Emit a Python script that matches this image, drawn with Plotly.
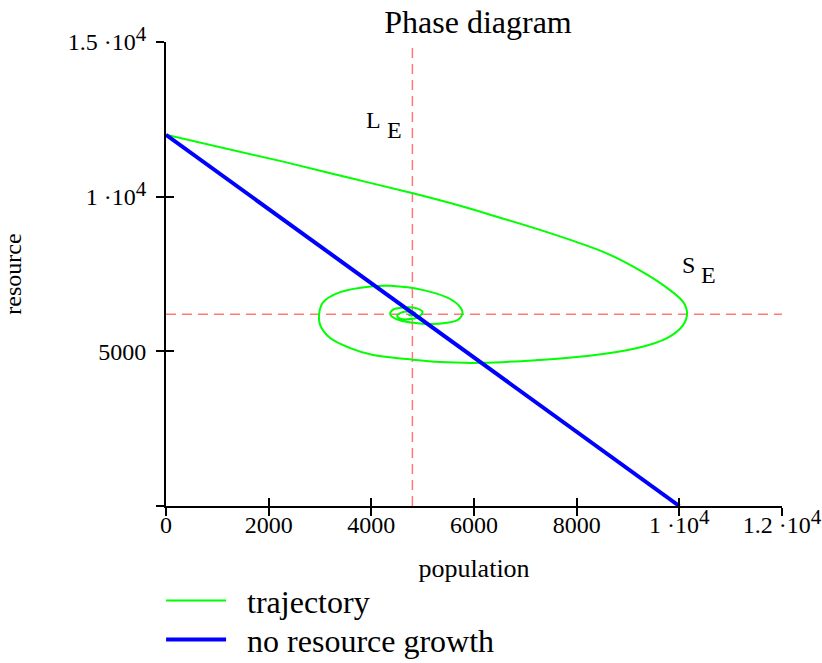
import plotly.graph_objects as go

# ---- data ----
traj_pop = [0, 2284, 3588, 4790, 5538, 6314, 7541, 8397, 8845, 9372, 9761, 10073, 10151,
            10073, 9761, 9177, 8203, 7230, 6178, 5341, 4698, 4036, 3588, 3199, 3004,
            2985, 3063, 3394, 4036, 4367, 5015, 5471, 5697, 5775, 5697, 5471, 5146,
            4821, 4498, 4367, 4431, 4659, 4887, 4996, 4932, 4757, 4562, 4503, 4581,
            4737, 4854, 4796, 4718]
traj_res = [12000, 11132, 10602, 10119, 9793, 9418, 8788, 8294, 7967, 7480, 7051, 6598, 6236,
            5848, 5428, 5105, 4846, 4717, 4630, 4653, 4750, 4879, 5105, 5428, 5848,
            6236, 6591, 6914, 7108, 7118, 6979, 6743, 6494, 6258, 6032, 5922, 5880,
            5922, 6032, 6204, 6355, 6420, 6388, 6278, 6123, 6042, 6058, 6155, 6252,
            6284, 6236, 6155, 6187]

nogrowth_pop = [0, 10000]
nogrowth_res = [12000, 0]

L_E = 4800
S_E = 6200

x_range = [0, 12000]
y_range = [0, 15000]
SUP4 = "<span style='font-size:21px;baseline-shift:45%'>4</span>"
x_ticks = [0, 2000, 4000, 6000, 8000, 10000, 12000]
x_ticktext = ["0", "2000", "4000", "6000", "8000", "1 ·10" + SUP4, "1.2 ·10" + SUP4]
y_ticks = [0, 5000, 10000, 15000]
y_ticktext = ["", "5000", "1 ·10" + SUP4, "1.5 ·10" + SUP4]

FONT = "Liberation Serif, Times New Roman, serif"
DASH_COLOR = "rgb(255,120,120)"
NB = "\u00a0\u00a0"

fig = go.Figure()

fig.add_trace(go.Scatter(x=[L_E, L_E], y=y_range, mode="lines",
                         line=dict(color=DASH_COLOR, width=1.5, dash="10px,6px"),
                         showlegend=False, hoverinfo="skip"))
fig.add_trace(go.Scatter(x=x_range, y=[S_E, S_E], mode="lines",
                         line=dict(color=DASH_COLOR, width=1.5, dash="10px,6px"),
                         showlegend=False, hoverinfo="skip"))
fig.add_trace(go.Scatter(x=traj_pop, y=traj_res, mode="lines", name=NB + "trajectory",
                         legend="legend",
                         line=dict(color="#00ff00", width=2, shape="spline", smoothing=1.0)))
fig.add_trace(go.Scatter(x=nogrowth_pop, y=nogrowth_res, mode="lines",
                         name=NB + "no resource growth", legend="legend2",
                         line=dict(color="#0000ff", width=4)))
# carrier trace so the overlay axes (inner half of the tick marks) get drawn
fig.add_trace(go.Scatter(x=[None], y=[None], xaxis="x2", yaxis="y2", mode="lines",
                         showlegend=False, hoverinfo="skip"))

axis_common = dict(showgrid=False, zeroline=False, showline=True, linecolor="black",
                   linewidth=2, tickcolor="black", tickwidth=2, ticklen=8)
inner_common = dict(ticks="inside", showticklabels=False, showgrid=False, zeroline=False,
                    showline=False, tickcolor="black", tickwidth=2, ticklen=8)

leg_common = dict(xanchor="left", yanchor="top", font=dict(size=32), itemwidth=60,
                  bgcolor="rgba(0,0,0,0)")

fig.update_layout(
    width=822, height=663,
    margin=dict(l=166, r=40, t=42, b=157, autoexpand=False),
    paper_bgcolor="white", plot_bgcolor="white",
    font=dict(family=FONT, color="black", size=22),
    title=dict(text="Phase diagram", x=(478 - 166) / 616, xref="paper", y=1 - 22 / 663,
               yanchor="middle", xanchor="center", font=dict(size=32)),
    xaxis=dict(range=x_range, tickvals=x_ticks, ticktext=x_ticktext, ticks="outside",
               tickfont=dict(size=24), ticklabelstandoff=-12,
               title=dict(text="population", font=dict(size=26), standoff=22),
               automargin=False, **axis_common),
    yaxis=dict(range=y_range, tickvals=y_ticks, ticktext=y_ticktext, ticks="outside",
               tickfont=dict(size=24), ticklabelstandoff=5,
               title=dict(text="resource", font=dict(size=24), standoff=40),
               automargin=False, **axis_common),
    xaxis2=dict(range=x_range, overlaying="x", anchor="y2", side="bottom",
                tickvals=x_ticks, **inner_common),
    yaxis2=dict(range=y_range, overlaying="y", anchor="x2", side="left",
                tickvals=y_ticks, **inner_common),
    legend=dict(x=-0.008, y=-0.145, **leg_common),
    legend2=dict(x=-0.008, y=-0.229, **leg_common),
    showlegend=True,
)

ann_font = dict(family=FONT, size=24, color="black")
labels = [("L", 373, 120), ("E", 394, 130), ("S", 688, 265), ("E", 708, 275)]
for txt, px, py in labels:
    fig.add_annotation(text=txt, x=(px - 166) / 616, y=(506 - py) / 464,
                       xref="paper", yref="paper", xanchor="center", yanchor="middle",
                       showarrow=False, font=ann_font)

fig.write_html("out.html")
